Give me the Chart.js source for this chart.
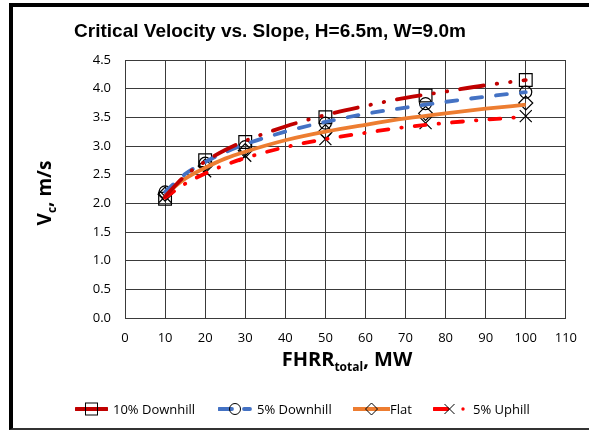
<!DOCTYPE html>
<html>
<head>
<meta charset="utf-8">
<script src="https://cdn.jsdelivr.net/npm/chart.js@4/dist/chart.umd.min.js"></script>
<style>
  html, body { margin:0; padding:0; background:#fff; }
  body { width:589px; height:432px; position:relative; overflow:hidden; font-family:"Open Sans", sans-serif; }
  #frame { position:absolute; left:9px; top:3px; width:600px; height:421px; border-left:4px solid #000; border-top:4px solid #000; border-bottom:2px solid #333; }
  #c { position:absolute; left:0; top:0; }
  #title { position:absolute; left:0; width:540px; top:20px; text-align:center; font-family:"Liberation Sans", Arial, sans-serif; font-weight:bold; font-size:19px; color:#000; white-space:nowrap; }
  #xtitle { position:absolute; left:247px; width:200px; top:345px; text-align:center; font-family:"Open Sans", sans-serif; font-weight:bold; font-size:20px; color:#000; white-space:nowrap; }
  #ytitle { position:absolute; left:-56px; width:200px; top:180px; text-align:center; font-family:"Open Sans", sans-serif; font-weight:bold; font-size:19px; color:#000; white-space:nowrap; transform:rotate(-90deg); }
  sub { font-size:12px; vertical-align:-5px; line-height:0; }
  .lg { position:absolute; top:400px; height:18px; font-size:13px; line-height:18px; color:#000; white-space:nowrap; }
  .lg svg { position:absolute; top:0; }
</style>
</head>
<body>
<div id="frame"></div>
<canvas id="c" width="589" height="432"></canvas>
<div id="title">Critical Velocity vs. Slope, H=6.5m, W=9.0m</div>
<div id="xtitle">FHRR<sub>total</sub>, MW</div>
<div id="ytitle">V<sub>c</sub>, m/s</div>
<div id="legend"></div>
<script>
// ---- data ----
const seriesNames = ["10% Downhill", "5% Downhill", "Flat", "5% Uphill"];
const xValues = [10, 20, 30, 50, 75, 100];
const downhill10 = [2.08, 2.75, 3.07, 3.50, 3.88, 4.15];
const downhill5  = [2.20, 2.70, 2.99, 3.40, 3.74, 3.94];
const flat       = [2.16, 2.65, 2.92, 3.25, 3.57, 3.75];
const uphill5    = [2.12, 2.56, 2.83, 3.12, 3.40, 3.52];
// trend-line curves
const trendX          = [10, 15, 20, 25, 30, 40, 50, 60, 70, 80, 90, 100];
const trendDownhill10 = [2.12, 2.48, 2.73, 2.93, 3.09, 3.34, 3.54, 3.70, 3.84, 3.95, 4.06, 4.15];
const trendDownhill5  = [2.20, 2.51, 2.72, 2.89, 3.03, 3.25, 3.42, 3.56, 3.67, 3.77, 3.86, 3.94];
const trendFlat       = [2.15, 2.43, 2.62, 2.78, 2.90, 3.10, 3.25, 3.37, 3.48, 3.57, 3.65, 3.72];
const trendUphill5    = [2.10, 2.34, 2.52, 2.67, 2.79, 2.98, 3.12, 3.23, 3.33, 3.40, 3.46, 3.51];
const xTicks = [0, 10, 20, 30, 40, 50, 60, 70, 80, 90, 100, 110];
const yTicks = [0.0, 0.5, 1.0, 1.5, 2.0, 2.5, 3.0, 3.5, 4.0, 4.5];

const colors = ["#C00000", "#4472C4", "#ED7D31", "#FF0000"];
const pts = (xs, ys) => xs.map((x, i) => ({x: x, y: ys[i]}));

const trendStyle = [
  {dash:[24, 13, 0.5, 13, 0.5, 13], cap:'round'},
  {dash:[11, 14], cap:'round'},
  {dash:[], cap:'butt'},
  {dash:[11, 13, 0.5, 13], cap:'round'}
];
const trendData = [trendDownhill10, trendDownhill5, trendFlat, trendUphill5];
const markData = [downhill10, downhill5, flat, uphill5];
const markStyle = [
  {style:'rect', r:9},
  {style:'circle', r:6},
  {style:'rectRot', r:7},
  {style:'crossRot', r:8.5}
];

const datasets = [];
for (let i = 0; i < 4; i++) {
  datasets.push({
    label: seriesNames[i] + " trend",
    data: pts(trendX, trendData[i]),
    showLine: true,
    borderColor: colors[i],
    borderWidth: 3.8,
    borderDash: trendStyle[i].dash,
    borderCapStyle: trendStyle[i].cap,
    cubicInterpolationMode: 'monotone',
    pointRadius: 0,
    order: 1
  });
}
for (let i = 0; i < 4; i++) {
  datasets.push({
    label: seriesNames[i],
    data: pts(xValues, markData[i]),
    showLine: false,
    pointStyle: markStyle[i].style,
    pointRadius: markStyle[i].r,
    pointBorderColor: '#000',
    pointBackgroundColor: 'rgba(0,0,0,0)',
    pointBorderWidth: 1.2,
    order: 2
  });
}

Chart.defaults.font.family = '"Open Sans", sans-serif';
Chart.defaults.color = '#000';
const gridColor = '#3a3a3a';

new Chart(document.getElementById('c'), {
  type: 'scatter',
  data: { datasets: datasets },
  options: {
    responsive: false,
    animation: false,
    layout: { padding: { left: 0, right: 15, top: 60, bottom: 0 } },
    plugins: { legend: { display: false }, tooltip: { enabled: false }, title: { display: false } },
    scales: {
      x: {
        type: 'linear', min: xTicks[0], max: xTicks[xTicks.length - 1],
        afterBuildTicks: s => { s.ticks = xTicks.map(v => ({value: v})); },
        ticks: { padding: 12, font: { size: 13 }, color: '#000', callback: v => String(v) },
        grid: { color: gridColor, lineWidth: 1, drawTicks: false },
        border: { color: gridColor, width: 1 },
        afterFit: s => { s.height = 114; }
      },
      y: {
        type: 'linear', min: yTicks[0], max: yTicks[yTicks.length - 1],
        afterBuildTicks: s => { s.ticks = yTicks.map(v => ({value: v})); },
        ticks: { padding: 14, font: { size: 13 }, color: '#000', callback: v => Number(v).toFixed(1) },
        grid: { color: gridColor, lineWidth: 1, drawTicks: false },
        border: { color: gridColor, width: 1 },
        afterFit: s => { s.width = 125; }
      }
    }
  }
});

// ---- legend (HTML, with small svg samples) ----
const lg = document.getElementById('legend');
const legendPos = [
  {sx:75, sw:33, tx:113},
  {sx:218, sw:34, tx:257},
  {sx:353, sw:37, tx:390},
  {sx:433, sw:33, tx:473}
];
function sampleSvg(i, w) {
  const c = colors[i], m = w / 2, y = 9;
  let line = '';
  if (i === 0) line = `<line x1="1" y1="${y}" x2="${w-1}" y2="${y}" stroke="${c}" stroke-width="3.8" stroke-linecap="round"/>`;
  if (i === 1) line = `<line x1="1" y1="${y}" x2="${m-3}" y2="${y}" stroke="${c}" stroke-width="3.8" stroke-linecap="round"/><line x1="${w-8}" y1="${y}" x2="${w-2}" y2="${y}" stroke="${c}" stroke-width="3.8" stroke-linecap="round"/>`;
  if (i === 2) line = `<line x1="0" y1="${y}" x2="${w}" y2="${y}" stroke="${c}" stroke-width="3.8"/>`;
  if (i === 3) line = `<line x1="1" y1="${y}" x2="${m-2}" y2="${y}" stroke="${c}" stroke-width="3.8" stroke-linecap="round"/><circle cx="${w-3}" cy="${y}" r="1.7" fill="${c}"/>`;
  let mk = '';
  if (i === 0) mk = `<rect x="${m-6}" y="${y-6}" width="12" height="12" fill="none" stroke="#000" stroke-width="1"/>`;
  if (i === 1) mk = `<circle cx="${m}" cy="${y}" r="5.5" fill="none" stroke="#000" stroke-width="1"/>`;
  if (i === 2) mk = `<polygon points="${m-6},${y} ${m},${y-6} ${m+6},${y} ${m},${y+6}" fill="none" stroke="#000" stroke-width="1"/>`;
  if (i === 3) mk = `<line x1="${m-5}" y1="${y-5}" x2="${m+5}" y2="${y+5}" stroke="#000"/><line x1="${m-5}" y1="${y+5}" x2="${m+5}" y2="${y-5}" stroke="#000"/>`;
  return `<svg width="${w}" height="18" style="left:0">${line}${mk}</svg>`;
}
for (let i = 0; i < 4; i++) {
  const p = legendPos[i];
  const d = document.createElement('div');
  d.className = 'lg';
  d.style.left = p.sx + 'px';
  d.style.width = (p.tx - p.sx + 120) + 'px';
  d.innerHTML = sampleSvg(i, p.sw) + `<span style="position:absolute;left:${p.tx - p.sx}px;top:0">${seriesNames[i]}</span>`;
  lg.appendChild(d);
}
</script>
</body>
</html>
